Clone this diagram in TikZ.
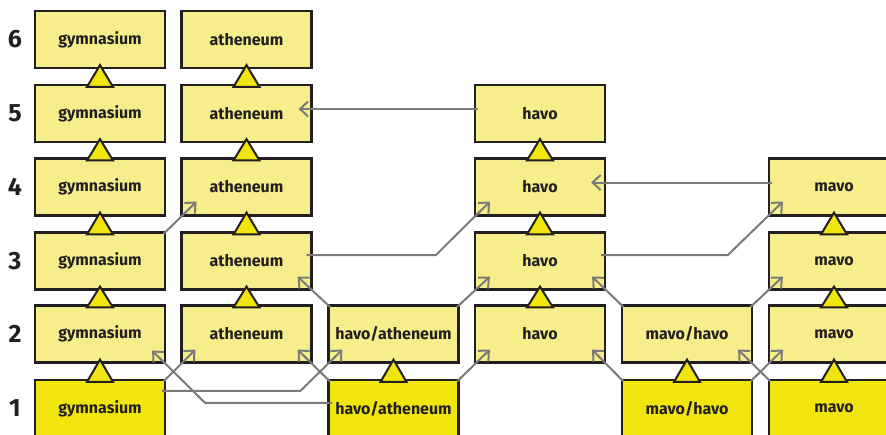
\documentclass[tikz,border=0pt]{standalone}
\usepackage{fontspec}
\setmainfont{Fira Sans}
\usetikzlibrary{calc,arrows.meta}
\definecolor{pale}{HTML}{F5EE8A}
\definecolor{bright}{HTML}{F0E60E}
\definecolor{ink}{HTML}{231F20}
\definecolor{arrowgray}{HTML}{7A7A7A}
\begin{document}
\begin{tikzpicture}[x=1pt,y=-1pt,
  box/.style={draw=ink, line width=2.2pt, fill=pale, minimum width=130pt, minimum height=57pt, inner sep=0pt, font=\fontsize{16}{18}\selectfont\bfseries, text=ink},
  basebox/.style={box, fill=bright},
  tri/.style={draw=ink, line width=2pt, fill=bright, line join=miter},
  arr/.style={draw=arrowgray, line width=2pt, -{Straight Barb[length=8pt,width=15pt]}},
  num/.style={font=\fontsize{25}{27}\selectfont\bfseries, text=ink}]
\useasboundingbox (0,0) rectangle (886,434);
\clip (0,0) rectangle (886,434);
% row numbers
\node[num] (n6) at (15,39.5) {6};
\node[num] (n5) at (15,113.5) {5};
\node[num] (n4) at (15,187) {4};
\node[num] (n3) at (15,261) {3};
\node[num] (n2) at (15,334) {2};
\node[num] (n1) at (15,408.5) {1};
% gymnasium column
\node[box] (g6) at (100,39.5) {gymnasium};
\node[box] (g5) at (100,113.5) {gymnasium};
\node[box] (g4) at (100,187) {gymnasium};
\node[box] (g3) at (100,261) {gymnasium};
\node[box] (g2) at (100,334) {gymnasium};
\node[basebox] (g1) at (100,408.5) {gymnasium};
% atheneum column
\node[box] (a6) at (246.5,39.5) {atheneum};
\node[box] (a5) at (246.5,113.5) {atheneum};
\node[box] (a4) at (246.5,187) {atheneum};
\node[box] (a3) at (246.5,261) {atheneum};
\node[box] (a2) at (246.5,334) {atheneum};
% havo/atheneum
\node[box] (ha2) at (393.5,334) {havo/atheneum};
\node[basebox] (ha1) at (393.5,408.5) {havo/atheneum};
% havo
\node[box] (h5) at (540,113.5) {havo};
\node[box] (h4) at (540,187) {havo};
\node[box] (h3) at (540,261) {havo};
\node[box] (h2) at (540,334) {havo};
% mavo/havo
\node[box] (mh2) at (687,334) {mavo/havo};
\node[basebox] (mh1) at (687,408.5) {mavo/havo};
% mavo
\node[box] (m4) at (834,187) {mavo};
\node[box] (m3) at (834,261) {mavo};
\node[box] (m2) at (834,334) {mavo};
\node[basebox] (m1) at (834,408.5) {mavo};
% triangles
\foreach \lo/\up in {g1/g2,g2/g3,g3/g4,g4/g5,g5/g6,a2/a3,a3/a4,a4/a5,a5/a6,ha1/ha2,h2/h3,h3/h4,h4/h5,mh1/mh2,m1/m2,m2/m3,m3/m4}{
  \draw[tri] ($(\lo.north)+(-13,3)$) -- ($(\lo.north)+(13,3)$) -- ($(\up.south)+(0,-4)$) -- cycle;
}
% horizontal arrows
\draw[arr] ($(h5.west)+(4,-4.5)$) -- ($(a5.east)+(-14,-4.5)$);
\draw[arr] ($(m4.west)+(4,-4.5)$) -- ($(h4.east)+(-15,-4.5)$);
% row 3 -> 4
\draw[arr] ($(g3.north east)+(-2.5,2.5)$) -- ($(a4.south west)+(16,-15)$);
\coordinate (s1) at ($(a3.east)+(-6,-6)$);
\coordinate (t1) at ($(h4.south west)+(16,-15)$);
\coordinate (b1) at ($(t1)+(-54,54)$);
\draw[arr] (s1) -- (b1 |- s1) -- (t1);
\coordinate (s2) at ($(h3.east)+(-5,-6)$);
\coordinate (t2) at ($(m4.south west)+(15,-15)$);
\coordinate (b2) at ($(t2)+(-55,55)$);
\draw[arr] (s2) -- (b2 |- s2) -- (t2);
% row 2 -> 3
\draw[arr] ($(ha2.north west)+(2.5,2.5)$) -- ($(a3.south east)+(-15,-14)$);
\draw[arr] ($(ha2.north east)+(-2.5,2.5)$) -- ($(h3.south west)+(16,-14)$);
\draw[arr] ($(mh2.north west)+(2.5,2.5)$) -- ($(h3.south east)+(-14,-14)$);
\draw[arr] ($(mh2.north east)+(-2.5,2.5)$) -- ($(m3.south west)+(15,-14)$);
% row 1 -> 2
\draw[arr] ($(g1.north east)+(-2.5,2.5)$) -- ($(a2.south west)+(15,-14)$);
\coordinate (s3) at ($(g1.north east)+(-4,12)$);
\coordinate (t3) at ($(ha2.south west)+(15,-14)$);
\coordinate (b3) at ($(t3)+(-42,42)$);
\draw[arr] (s3) -- (b3 |- s3) -- (t3);
\coordinate (s4) at ($(ha1.north west)+(5,24)$);
\coordinate (t4) at ($(g2.south east)+(-14,-13)$);
\coordinate (b4) at ($(t4)+(53,53)$);
\draw[arr] (s4) -- (b4 |- s4) -- (t4);
\draw[arr] ($(ha1.north west)+(2.5,2.5)$) -- ($(a2.south east)+(-15,-14)$);
\draw[arr] ($(ha1.north east)+(-2.5,2.5)$) -- ($(h2.south west)+(16,-14)$);
\draw[arr] ($(mh1.north west)+(2.5,2.5)$) -- ($(h2.south east)+(-14,-14)$);
\draw[arr] ($(mh1.north east)+(-2.5,2.5)$) -- ($(m2.south west)+(15,-14)$);
\draw[arr] ($(m1.north west)+(2.5,2.5)$) -- ($(mh2.south east)+(-15,-14)$);
\end{tikzpicture}
\end{document}
